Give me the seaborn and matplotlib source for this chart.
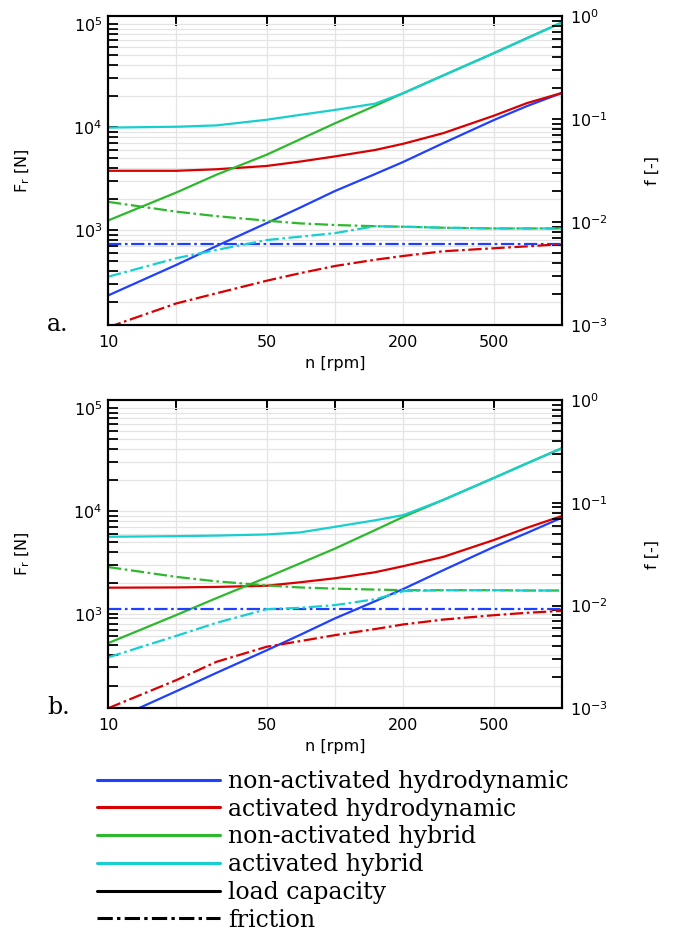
import matplotlib
matplotlib.use("Agg")
import matplotlib.pyplot as plt
from matplotlib.lines import Line2D
from matplotlib.ticker import FixedLocator, FixedFormatter, LogLocator, NullLocator, NullFormatter
import seaborn as sns

# rotational speed n [rpm], shared by all curves
n_rpm = [10, 20, 30, 50, 70, 100, 150, 200, 300, 500, 700, 1000]

case_names = ["non-activated hydrodynamic", "activated hydrodynamic",
              "non-activated hybrid", "activated hybrid"]
case_colors = ["#1f40ff", "#d80000", "#2eb82e", "#17cfcf"]

# panel a - load capacity Fr [N]
a_load_nah = [232, 460, 700, 1170, 1650, 2400, 3500, 4600, 7000, 11700, 16000, 21500]
a_load_ah = [3770, 3770, 3900, 4200, 4630, 5200, 6000, 6900, 8750, 12900, 17100, 21500]
a_load_nahy = [1240, 2320, 3450, 5400, 7600, 10900, 16100, 21400, 31800, 52200, 73000, 104000]
a_load_ahy = [9900, 10100, 10400, 11800, 13150, 14700, 16900, 21400, 31800, 52200, 73000, 104000]

# panel a - friction coefficient f [-]
a_fric_nah = [0.0061] * 12
a_fric_ah = [0.00095, 0.00162, 0.00203, 0.00269, 0.00318, 0.00374, 0.0043, 0.00468, 0.0052, 0.00556, 0.0058, 0.0061]
a_fric_nahy = [0.0157, 0.0126, 0.0114, 0.0103, 0.0097, 0.00935, 0.0091, 0.0090, 0.0088, 0.00866, 0.00866, 0.00866]
a_fric_ahy = [0.00294, 0.00445, 0.00535, 0.00668, 0.0072, 0.0078, 0.0091, 0.0090, 0.0088, 0.00866, 0.00866, 0.00866]

# panel b - load capacity Fr [N]
b_load_nah = [88, 176, 265, 440, 620, 900, 1320, 1740, 2650, 4450, 6100, 8600]
b_load_ah = [1790, 1800, 1820, 1870, 2020, 2210, 2530, 2900, 3570, 5200, 6840, 8930]
b_load_nahy = [516, 970, 1415, 2250, 3080, 4300, 6500, 8750, 12800, 20900, 29000, 40800]
b_load_ahy = [5600, 5680, 5750, 5900, 6170, 7000, 8100, 9100, 12800, 20900, 29000, 40800]

# panel b - friction coefficient f [-]
b_fric_nah = [0.0093] * 12
b_fric_ah = [0.0010, 0.00188, 0.00283, 0.00397, 0.0045, 0.00515, 0.0059, 0.00655, 0.0073, 0.00805, 0.0085, 0.00887]
b_fric_nahy = [0.0237, 0.019, 0.0172, 0.0157, 0.015, 0.0146, 0.0143, 0.0141, 0.0141, 0.0141, 0.014, 0.014]
b_fric_ahy = [0.00313, 0.00507, 0.00678, 0.0092, 0.0095, 0.0101, 0.0115, 0.0138, 0.0141, 0.0141, 0.014, 0.014]

x_ticks = [10, 20, 50, 100, 200, 500]
x_tick_labels = ["10", "", "50", "", "200", "500"]

sns.set_style("white", {"axes.edgecolor": "black", "xtick.color": "black",
                        "ytick.color": "black", "text.color": "black",
                        "axes.labelcolor": "black"})
plt.rcParams["font.family"] = ["DejaVu Sans"]
plt.rcParams["mathtext.default"] = "regular"

dashdot = (0, (6, 1.6, 1.2, 1.6))
LW = 1.6


def draw_panel(ax, loads, frictions, tag, tag_y):
    ax2 = ax.twinx()
    for ax_ in (ax, ax2):
        ax_.set_xscale("log")
        ax_.set_yscale("log")
    for vals, col in zip(loads, case_colors):
        sns.lineplot(x=n_rpm, y=vals, color=col, lw=LW, ax=ax)
    for vals, col in zip(frictions, case_colors):
        sns.lineplot(x=n_rpm, y=vals, color=col, lw=LW, linestyle=dashdot, ax=ax2)

    ax.set_xlim(10, 1000)
    ax.set_ylim(120, 1.2e5)
    ax2.set_ylim(1e-3, 1e0)

    ax.xaxis.set_major_locator(FixedLocator(x_ticks))
    ax.xaxis.set_major_formatter(FixedFormatter(x_tick_labels))
    ax.xaxis.set_minor_locator(NullLocator())
    for ax_ in (ax, ax2):
        ax_.yaxis.set_major_locator(LogLocator(base=10))
        ax_.yaxis.set_minor_locator(LogLocator(base=10, subs=range(2, 10), numticks=50))
        ax_.yaxis.set_minor_formatter(NullFormatter())
        for s in ax_.spines.values():
            s.set_linewidth(1.5)
            s.set_color("black")

    ax.tick_params(axis="x", which="both", direction="in", top=True, length=7.5,
                   width=1.4, labelsize=11.5, pad=7)
    ax.tick_params(axis="y", which="both", direction="in", left=True, right=False,
                   length=7.5, width=1.3, labelsize=11.5, pad=4)
    ax2.tick_params(axis="y", which="both", direction="in", right=True, left=False,
                    length=7.5, width=1.3, labelsize=11.5, pad=6)

    ax.grid(True, which="major", axis="x", color="#e4e4e4", lw=0.9)
    ax.grid(True, which="both", axis="y", color="#e4e4e4", lw=0.9)
    ax.set_axisbelow(True)

    ax.set_xlabel("n [rpm]", fontsize=11.5)
    ax.xaxis.set_label_coords(0.5, -0.10)
    ax.set_ylabel(r"F$_{r}$ [N]", fontsize=11.5)
    ax.yaxis.set_label_coords(-0.167, 0.5)
    ax2.set_ylabel("f [-]", fontsize=11.5)
    ax2.yaxis.set_label_coords(1.183, 0.5)

    fig.text(47 / 677, tag_y, tag, family="DejaVu Serif", fontsize=17, va="baseline")


fig = plt.figure(figsize=(6.77, 9.3), dpi=100)
ax_a = fig.add_axes([108 / 677, 1 - 325 / 930, 454 / 677, 309 / 930])
ax_b = fig.add_axes([108 / 677, 1 - 708.3 / 930, 454 / 677, 308.3 / 930])

draw_panel(ax_a, [a_load_nah, a_load_ah, a_load_nahy, a_load_ahy],
           [a_fric_nah, a_fric_ah, a_fric_nahy, a_fric_ahy], "a.", 1 - 331 / 930)
draw_panel(ax_b, [b_load_nah, b_load_ah, b_load_nahy, b_load_ahy],
           [b_fric_nah, b_fric_ah, b_fric_nahy, b_fric_ahy], "b.", 1 - 714 / 930)

# legend below the panels
handles = [Line2D([], [], color=c, lw=2.2) for c in case_colors]
handles += [Line2D([], [], color="black", lw=2.2),
            Line2D([], [], color="black", lw=2.2, linestyle=(0, (5, 1.4, 1.1, 1.4)))]
labels = case_names + ["load capacity", "friction"]
fig.legend(handles, labels, loc="upper left", bbox_to_anchor=(97 / 677, 1 - 770 / 930),
           frameon=False, prop={"family": "DejaVu Serif", "size": 17},
           handlelength=5.2, handletextpad=0.34, labelspacing=0.2, borderpad=0,
           borderaxespad=0)

fig.savefig("out.png", dpi=100)
